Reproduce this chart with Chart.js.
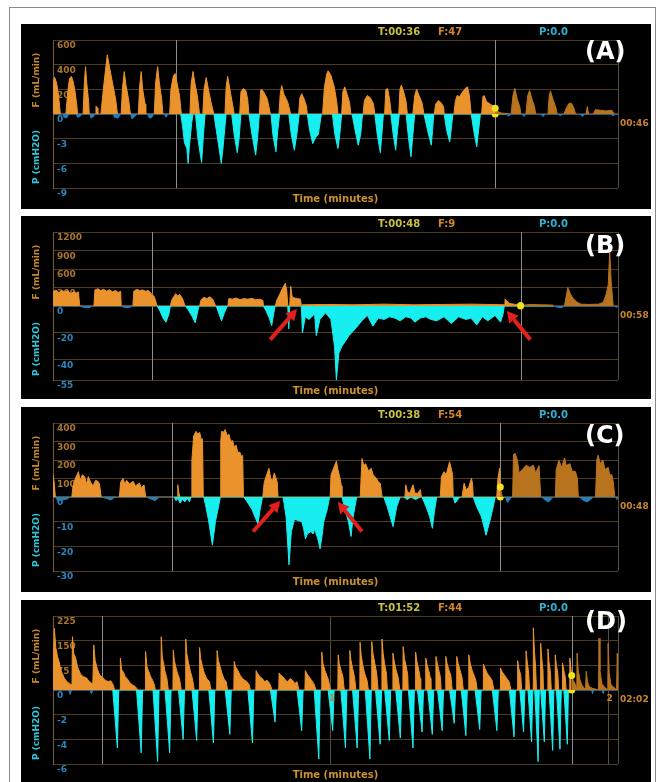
<!DOCTYPE html>
<html>
<head>
<meta charset="utf-8">
<script src="https://cdn.jsdelivr.net/npm/chart.js@4.4.0/dist/chart.umd.min.js"></script>
<style>
  body { margin: 0; background: #fff; width: 659px; height: 782px; overflow: hidden; position: relative; }
  #frame { position: absolute; left: 9px; top: 7px; width: 647px; height: 790px; border: 1px solid #8a8a8a; box-sizing: border-box; }
  .panel { position: absolute; left: 21px; width: 630px; background: #000; }
  .panel canvas { display: block; }
</style>
</head>
<body>
<div id="frame"></div>
<div class="panel" style="top:24px;height:185px"><canvas id="cA" width="630" height="185"></canvas></div>
<div class="panel" style="top:216px;height:183px"><canvas id="cB" width="630" height="183"></canvas></div>
<div class="panel" style="top:407px;height:185px"><canvas id="cC" width="630" height="185"></canvas></div>
<div class="panel" style="top:600px;height:182px"><canvas id="cD" width="630" height="182"></canvas></div>

<script>
// ---------- panel A ----------
const durA = 46;
const cursorA = [10, 36];
const fCurA = 47;
const flowTicksA = [0, 200, 400, 600];
const presTicksA = [-9, -6, -3, 0];
const flowA = [
  [0,240],[0.12,300],[0.3,250],[0.45,150],[0.6,0],
  [1.05,0],[1.2,180],[1.35,290],[1.5,304],[1.65,260],[1.8,180],[1.95,60],[2.0,0],
  [2.45,0],[2.55,250],[2.65,384],[2.75,250],[2.9,100],[2.95,0],
  [3.45,0],[3.5,64],[3.6,50],[3.65,0],
  [3.9,0],[4.1,200],[4.3,380],[4.42,480],[4.6,380],[4.85,250],[5.1,120],[5.25,0],
  [5.55,0],[5.65,200],[5.8,344],[5.95,230],[6.15,120],[6.3,0],
  [6.95,0],[7.05,220],[7.18,344],[7.3,200],[7.5,80],[7.55,0],
  [8.25,0],[8.35,250],[8.52,384],[8.65,260],[8.85,120],[8.95,0],
  [9.5,0],[9.6,200],[9.8,310],[9.95,328],[10.1,250],[10.3,150],[10.45,0],
  [11.15,0],[11.25,250],[11.4,345],[11.55,250],[11.75,150],[11.93,0],
  [12.2,0],[12.3,200],[12.47,295],[12.65,200],[12.9,80],[13.1,0],
  [14.0,0],[14.1,220],[14.22,305],[14.4,200],[14.6,90],[14.75,0],
  [15.2,0],[15.3,180],[15.5,207],[15.7,190],[15.85,120],[15.95,0],
  [16.8,0],[16.9,190],[17.0,200],[17.2,170],[17.45,120],[17.7,0],
  [18.4,0],[18.5,160],[18.62,230],[18.8,160],[19.1,100],[19.35,0],
  [20.0,0],[20.1,130],[20.25,165],[20.45,120],[20.65,60],[20.7,0],
  [21.95,0],[22.1,220],[22.3,330],[22.4,350],[22.6,320],[22.9,220],[23.1,100],[23.2,0],
  [23.5,0],[23.6,180],[23.75,220],[23.95,160],[24.15,90],[24.25,0],
  [25.25,0],[25.35,110],[25.6,150],[25.85,130],[26.1,80],[26.2,0],
  [27.0,0],[27.1,200],[27.25,205],[27.4,120],[27.55,0],
  [28.15,0],[28.25,200],[28.36,235],[28.55,180],[28.75,100],[28.85,0],
  [29.3,0],[29.45,150],[29.6,200],[29.8,150],[30.05,90],[30.2,0],
  [31.05,0],[31.15,80],[31.4,110],[31.6,90],[31.8,60],[31.85,0],
  [32.65,0],[32.75,100],[32.9,150],[33.1,140],[33.35,180],[33.6,210],[33.75,220],[33.9,150],[34.05,0],
  [34.9,0],[35.0,140],[35.1,150],[35.3,100],[35.6,80],[35.9,60],[36.0,47],
  [36.2,20],[36.5,8],[37.3,0],[37.45,150],[37.6,208],[37.8,120],[38.0,60],[38.1,0],
  [38.5,0],[38.65,150],[38.8,190],[39.0,120],[39.2,60],[39.3,0],
  [40.3,0],[40.4,150],[40.5,187],[40.7,120],[40.95,50],[41.05,0],
  [41.6,0],[41.8,50],[42.0,85],[42.2,88],[42.4,50],[42.55,0],
  [43.4,0],[43.5,60],[43.6,0],
  [44.0,0],[44.15,35],[44.6,30],[45.0,25],[45.5,30],[45.7,0],[46,0]
];
const presA = [
  [0,0],[0.8,0],[0.9,-0.4],[1.1,-0.5],[1.3,0],[1.9,0],[2.0,-0.4],[2.2,-0.3],[2.35,0],
  [3.0,0],[3.1,-0.5],[3.3,-0.3],[3.4,0],[4.9,0],[5.0,-0.4],[5.3,-0.5],[5.5,0],
  [6.3,0],[6.45,-0.6],[6.65,-0.3],[6.8,0],[7.7,0],[7.85,-0.5],[8.05,-0.4],[8.2,0],
  [9.05,0],[9.2,-0.4],[9.35,0],
  [10.4,0],[10.55,-1.5],[10.7,-3.5],[10.9,-4.2],[11.0,-6],[11.1,-4],[11.3,-1],[11.4,0],
  [11.6,0],[11.8,-3],[12.0,-5],[12.1,-5.9],[12.25,-2.5],[12.38,0],
  [13.1,0],[13.3,-2],[13.5,-4],[13.7,-6],[13.85,-4],[14.0,-1.5],[14.1,0],
  [14.55,0],[14.75,-2.5],[15.0,-4.7],[15.15,-3],[15.3,0],
  [15.95,0],[16.2,-2.5],[16.5,-5],[16.65,-3],[16.8,0],
  [17.75,0],[17.9,-2.5],[18.15,-4.6],[18.3,-2],[18.45,0],
  [19.2,0],[19.4,-2.5],[19.65,-4.4],[19.85,-2.5],[20.05,0],
  [20.7,0],[20.9,-2],[21.15,-3.6],[21.4,-2.8],[21.6,-2.5],[21.85,0],
  [22.75,0],[22.95,-2.5],[23.2,-4.2],[23.35,-2.5],[23.5,0],
  [24.35,0],[24.6,-2],[24.85,-3.8],[25.05,-2.5],[25.2,0],
  [26.2,0],[26.4,-2.5],[26.65,-4.7],[26.8,-2],[26.9,0],
  [27.5,0],[27.7,-2.5],[27.9,-4.4],[28.05,-2],[28.2,0],
  [28.75,0],[28.95,-3],[29.15,-5.2],[29.3,-2.5],[29.45,0],
  [30.2,0],[30.5,-2],[30.8,-3.8],[30.9,-2],[31.0,0],
  [31.85,0],[32.05,-2],[32.3,-3.4],[32.45,-1.5],[32.55,0],
  [34.05,0],[34.25,-2],[34.5,-4],[34.65,-2],[34.8,0],
  [36.9,0],[37.1,-0.25],[37.3,0],[38.2,0],[38.35,-0.3],[38.5,0],[39.7,0],[39.9,-0.3],[40.1,0],
  [41.1,0],[41.3,-0.2],[41.5,0],[42.9,0],[43.1,-0.3],[43.3,0],[45.4,0],[45.6,-0.2],[45.8,0],[46,0]
];

// ---------- panel B ----------
const durB = 58;
const cursorB = [10.2, 48];
const fCurB = 9;
const flowTicksB = [0, 300, 600, 900, 1200];
const presTicksB = [-55, -40, -20, 0];
const flowB = [
  [0,230],[0.3,260],[0.6,220],[0.9,250],[1.2,230],[1.5,250],[1.8,200],[2.1,230],[2.4,210],[2.6,230],[2.75,0],
  [4.2,0],[4.3,260],[4.6,280],[4.9,250],[5.2,270],[5.5,240],[5.8,265],[6.1,230],[6.4,250],[6.7,220],[6.95,240],[7.0,0],
  [8.2,0],[8.3,240],[8.6,270],[8.9,250],[9.2,260],[9.5,240],[9.8,250],[10.1,200],[10.4,150],[10.7,0],
  [12.05,0],[12.2,100],[12.4,150],[12.6,200],[12.8,160],[13.0,190],[13.3,120],[13.55,0],
  [15.05,0],[15.2,100],[15.5,140],[15.8,120],[16.1,150],[16.4,110],[16.7,0],
  [17.95,0],[18.05,120],[18.4,110],[18.8,130],[19.2,100],[19.6,120],[20.0,110],[20.4,125],[20.8,100],[21.2,110],[21.55,90],[21.6,0],
  [22.8,0],[23.0,100],[23.3,200],[23.6,300],[23.85,370],[24.0,250],[24.1,0],[24.3,0],[24.4,320],[24.55,150],[24.8,130],[25.1,120],[25.4,110],[25.5,0],
  [25.6,20],[28,25],[31,20],[34,30],[37,20],[40,25],[43,30],[46.3,20],
  [46.4,110],[46.6,80],[46.9,40],[47.3,30],[48.0,9],
  [49,25],[50,20],[51.3,15],[51.4,0],[52.5,0],[52.85,300],[53.1,200],[53.4,120],[53.8,60],[54.2,30],[55,25],[56,30],
  [56.5,60],[56.8,200],[57.0,350],[57.15,880],[57.3,400],[57.45,100],[57.5,0],[58,0]
];
const presB = [
  [0,0],[2.8,0],[3.1,-1],[3.4,-1.3],[3.8,-1],[4.0,0],[7.0,0],[7.3,-1],[7.6,-1.2],[8.0,-0.8],[8.15,0],
  [10.7,0],[11.0,-4],[11.3,-9],[11.6,-12],[11.9,-6],[12.05,0],
  [13.6,0],[13.9,-3],[14.3,-8],[14.6,-12.5],[14.8,-6],[14.97,0],
  [16.75,0],[17.0,-5],[17.3,-11],[17.6,-5],[17.9,0],
  [21.6,0],[21.9,-4],[22.2,-9],[22.45,-14.5],[22.65,-6],[22.8,0],
  [24.1,0],[24.2,-17],[24.3,0],
  [25.5,0],[25.6,-20],[25.9,-8],[26.28,-10],[26.85,-6],[27.03,-22],[27.4,-10],[27.97,-5],[28.53,-10],
  [28.9,-30],[29.09,-55],[29.35,-35],[29.65,-30],[30.4,-22],[31.15,-16],[31.7,-11],[32.27,-7],[32.84,-15],
  [33.4,-9],[34.0,-10],[34.52,-8],[35.1,-9],[35.64,-11],[36.2,-8],[36.77,-9],[37.14,-12],[37.7,-9],[38.27,-8],
  [38.8,-10],[39.39,-11],[40.14,-8],[40.89,-13],[41.64,-8],[42.39,-10],[42.9,-9],[43.51,-14],[44.07,-8],
  [44.63,-11],[45.38,-7],[45.94,-12],[46.2,-6],[46.32,0],
  [51.5,0],[51.8,-1],[52.2,-1.2],[52.5,0],[57.6,0],[57.85,-1],[58,0]
];
const arrowsB = [[22.3, -25, 25.05, -2.3], [49.0, -25, 46.6, -3.8]];

// ---------- panel C ----------
const durC = 48;
const cursorC = [10.1, 38];
const fCurC = 54;
const flowTicksC = [0, 100, 200, 300, 400];
const presTicksC = [-30, -20, -10, 0];
const flowC = [
  [0,120],[0.1,80],[0.2,0],
  [1.6,0],[1.7,60],[1.9,100],[2.16,137],[2.3,90],[2.5,120],[2.69,110],[2.85,70],[3.0,110],[3.2,80],[3.4,60],[3.62,90],[3.8,85],[3.95,70],[4.09,0],
  [5.64,0],[5.75,80],[5.95,101],[6.1,70],[6.26,90],[6.5,70],[6.81,85],[7.0,60],[7.34,75],[7.5,50],[7.74,65],[7.87,0],
  [10.55,0],[10.6,66],[10.7,20],[10.8,0],
  [11.75,0],[11.8,200],[11.95,330],[12.15,355],[12.3,340],[12.46,350],[12.6,310],[12.7,315],[12.77,0],
  [14.22,0],[14.25,300],[14.32,355],[14.5,350],[14.63,365],[14.8,330],[14.94,340],[15.1,300],[15.25,306],[15.4,270],[15.56,280],[15.7,240],[15.87,243],[16.0,220],[16.11,225],[16.18,0],
  [17.82,0],[17.95,80],[18.15,120],[18.35,155],[18.5,100],[18.66,90],[18.8,130],[18.9,110],[19.05,80],[19.12,0],
  [23.55,0],[23.62,119],[23.8,150],[24.08,194],[24.2,150],[24.39,100],[24.5,60],[24.55,0],
  [26.1,0],[26.25,208],[26.4,170],[26.56,180],[26.8,140],[27.03,155],[27.2,120],[27.49,100],[27.65,80],[27.8,75],[27.96,0],
  [29.9,0],[29.97,66],[30.1,30],[30.3,20],[30.59,66],[30.75,20],[31.0,20],[31.21,40],[31.3,0],
  [32.9,0],[33.0,110],[33.22,137],[33.4,120],[33.69,190],[33.85,150],[33.95,120],[34.0,0],
  [34.75,0],[34.93,75],[35.1,40],[35.3,50],[35.55,101],[35.65,70],[35.7,0],
  [37.7,0],[37.8,100],[37.94,155],[38.0,54],[38.1,20],[38.2,0],
  [39.05,0],[39.12,230],[39.27,235],[39.45,200],[39.6,130],[39.9,150],[40.2,172],[40.5,160],[40.82,172],[41.0,130],[41.29,170],[41.44,0],
  [42.68,0],[42.75,150],[42.99,199],[43.2,160],[43.46,211],[43.6,170],[43.92,180],[44.1,140],[44.39,137],[44.55,100],[44.63,0],
  [46.09,0],[46.2,200],[46.31,226],[46.5,180],[46.71,200],[46.9,150],[47.17,160],[47.3,120],[47.48,120],[47.6,80],[47.73,0],[48,0]
];
const presC = [
  [0,0],[0.2,0],[0.4,-1.5],[0.8,-1.2],[1.2,-0.8],[1.45,0],[4.1,0],[4.5,-0.5],[4.9,-1.2],[5.3,0],[7.95,0],[8.3,-0.8],[8.7,-1.5],[9.0,0],
  [10.3,0],[10.45,-1.5],[10.6,-0.5],[10.8,-2.5],[11.0,-1],[11.2,-2],[11.4,-0.5],[11.6,-2],[11.7,0],
  [12.8,0],[12.95,-3],[13.2,-9],[13.54,-19.5],[13.8,-10],[14.1,-3],[14.22,0],
  [16.2,0],[16.5,-2],[16.9,-5],[17.41,-11],[17.6,-5],[17.8,0],
  [19.55,0],[19.8,-8],[20.05,-27.5],[20.25,-14],[20.52,-9],[20.8,-9.5],[21.14,-10],[21.3,-13],[21.45,-17],[21.6,-15],
  [21.91,-14],[22.1,-15],[22.22,-13],[22.5,-17],[22.69,-21],[22.85,-16],[23.0,-10],[23.3,-5],[23.5,0],
  [24.55,0],[24.8,-5],[25.1,-10],[25.32,-16],[25.5,-8],[25.8,0],
  [28.1,0],[28.4,-4],[28.89,-12],[29.2,-4],[29.5,0],
  [29.8,0],[30.1,-1],[30.4,0],[30.8,-1],[31.2,0],
  [31.35,0],[31.7,-4],[32.0,-8],[32.23,-12.7],[32.4,-6],[32.6,0],
  [34.0,0],[34.15,-2.5],[34.4,-1],[34.6,0],
  [35.7,0],[36.0,-4],[36.4,-8],[36.79,-15.5],[37.1,-10],[37.4,-4],[37.57,0],
  [38.45,0],[38.6,-2.2],[38.9,-0.5],[39.0,0],
  [41.5,0],[41.9,-1.5],[42.1,-2],[42.5,0],
  [44.7,0],[45.1,-1.5],[45.4,-2],[45.9,0],
  [47.8,0],[47.9,-1],[48,0]
];
const arrowsC = [[17.0, -14, 19.3, -1.6], [26.25, -14, 24.2, -2]];

// ---------- panel D ----------
const durD = 122;
const cursorD = [10.6, 112];
const fCurD = 44;
const minutesD = [60, 120];
const flowTicksD = [0, 75, 150, 225];
const presTicksD = [-6, -4, -2, 0];
const flowD = [
  [0,60],[0.3,187],[0.6,130],[1.0,100],[1.3,87],[1.7,60],[2.1,47],[2.5,35],[2.9,27],[3.5,20],[4.1,15],
  [4.2,162],[4.5,110],[4.9,97],[5.3,70],[6.0,47],[6.6,40],[7.2,37],[7.9,25],[8.6,18],
  [8.8,137],[9.1,90],[9.6,62],[10.1,45],[10.8,37],
  [11.3,30],[11.9,25],[12.5,28],[13.0,15],[13.3,0],
  [14.5,0],[14.55,97],[14.8,62],[15.2,55],[15.6,40],[16.0,35],[16.6,22],[17.2,15],[17.8,10],[18.3,0],
  [19.9,0],[19.99,117],[20.3,70],[20.7,55],[21.1,40],[21.5,30],[21.9,15],[22.1,0],
  [23.3,0],[23.38,162],[23.6,100],[23.9,80],[24.2,55],[24.6,35],[24.9,0],
  [25.9,0],[25.98,122],[26.2,90],[26.5,70],[26.9,50],[27.3,35],[27.7,0],
  [28.6,0],[28.66,155],[28.9,110],[29.3,80],[29.7,55],[30.1,35],[30.5,0],
  [31.6,0],[31.65,129],[31.9,95],[32.3,70],[32.7,50],[33.2,35],[33.8,25],[34.1,0],
  [35.35,0],[35.43,120],[35.7,90],[36.1,70],[36.5,50],[36.9,35],[37.4,25],[37.7,0],
  [39.05,0],[39.13,87],[39.4,70],[39.9,60],[40.4,45],[40.9,35],[41.4,30],[41.9,25],[42.4,15],[42.6,0],
  [43.8,0],[43.86,59],[44.2,50],[44.7,40],[45.2,35],[45.7,25],[46.2,30],[46.8,20],[47.3,0],
  [48.75,0],[48.82,52],[49.2,45],[49.7,40],[50.2,30],[50.7,25],[51.2,35],[51.7,30],[52.2,20],[52.7,25],[53.1,0],
  [54.4,0],[54.49,59],[54.8,50],[55.3,40],[55.8,30],[56.3,20],[56.8,0],
  [58.0,0],[58.04,115],[58.3,80],[58.7,60],[59.1,45],[59.5,30],[59.9,0],
  [61.5,0],[61.58,107],[61.8,80],[62.2,60],[62.6,40],[62.9,0],
  [64.05,0],[64.1,120],[64.35,90],[64.7,65],[65.1,40],[65.4,0],
  [66.25,0],[66.31,145],[66.55,105],[66.9,75],[67.3,50],[67.8,30],[68.1,0],
  [68.75,0],[68.83,147],[69.1,110],[69.5,80],[69.9,50],[70.2,0],
  [71.0,0],[71.03,155],[71.3,110],[71.6,80],[72.0,50],[72.2,0],
  [73.35,0],[73.4,112],[73.7,85],[74.1,60],[74.5,40],[74.9,0],
  [75.55,0],[75.6,132],[75.9,95],[76.3,70],[76.6,45],[76.7,0],
  [78.25,0],[78.3,115],[78.6,85],[79.0,60],[79.3,35],[79.4,0],
  [80.45,0],[80.49,97],[80.8,75],[81.2,55],[81.5,35],[81.6,0],
  [82.65,0],[82.69,102],[83.0,80],[83.4,55],[83.7,35],[83.8,0],
  [84.8,0],[84.82,102],[85.1,80],[85.5,60],[85.9,45],[86.2,0],
  [87.15,0],[87.18,102],[87.5,80],[87.9,60],[88.3,40],[88.6,0],
  [89.75,0],[89.78,107],[90.1,80],[90.5,60],[90.9,45],[91.3,30],[91.6,0],
  [92.9,0],[92.93,79],[93.3,65],[93.8,50],[94.3,40],[94.8,30],[95.2,0],
  [96.6,0],[96.63,67],[97.0,55],[97.5,45],[98.0,35],[98.5,25],[98.9,0],
  [100.3,0],[100.33,89],[100.6,65],[101.0,45],[101.2,0],
  [102.1,0],[102.15,119],[102.4,85],[102.7,55],[102.9,0],
  [103.7,0],[103.72,189],[103.95,120],[104.2,70],[104.4,0],
  [105.25,0],[105.3,142],[105.55,95],[105.8,60],[105.9,0],
  [106.85,0],[106.87,125],[107.1,85],[107.4,55],[107.6,0],
  [108.4,0],[108.45,107],[108.7,75],[109.0,50],[109.2,0],
  [110.0,0],[110.02,82],[110.3,60],[110.6,40],[110.8,0],
  [111.55,0],[111.6,97],[111.8,70],[112.0,44],
  [112.3,30],[112.7,20],[113.1,0],[113.17,112],[113.4,60],[113.8,30],[114.2,15],[115.0,0],
  [115.14,57],[115.4,25],[115.8,10],[116.5,5],[117.8,0],[117.9,157],[118.1,60],[118.5,20],[119.0,10],[119.8,0],
  [119.87,142],[120.1,50],[120.5,15],[121.0,10],[121.7,0],[121.84,112],[122,40]
];
const presD = [
  [0,0],[3.4,0],[3.7,-0.35],[4.0,0],[8.0,0],[8.3,-0.3],[8.6,0],[12.9,0],
  [13.4,-2.3],[13.9,-4.7],[14.2,0],[18.04,0],[18.54,-2.5],[19.04,-5.1],[19.34,0],
  [21.59,0],[22.09,-2.9],[22.59,-5.8],[22.89,0],[24.19,0],[24.69,-2.5],[25.19,-5.1],[25.49,0],
  [27.1,0],[27.6,-2],[28.1,-4],[28.4,0],[30.02,0],[30.52,-2],[31.02,-4.1],[31.32,0],
  [33.64,0],[34.14,-2.1],[34.64,-4.3],[34.94,0],[37.19,0],[37.69,-1.8],[38.19,-3.6],[38.49,0],
  [42.07,0],[42.57,-2.1],[43.07,-4.3],[43.37,0],[46.95,0],[47.45,-1.3],[47.95,-2.6],[48.25,0],
  [52.7,0],[53.2,-1.6],[53.7,-3.3],[54.0,0],[56.4,0],[56.9,-2.8],[57.4,-5.6],[57.7,0],
  [59.4,0],[59.9,-1.6],[60.4,-3.3],[60.7,0],[62.15,0],[62.65,-2.3],[63.15,-4.7],[63.45,0],
  [64.68,0],[65.18,-2.3],[65.68,-4.7],[65.98,0],[67.43,0],[67.93,-2.8],[68.43,-5.6],[68.73,0],
  [69.64,0],[70.14,-2.2],[70.64,-4.4],[70.94,0],[71.61,0],[72.11,-2],[72.61,-4.1],[72.91,0],
  [74.0,0],[74.5,-1.9],[75.0,-3.9],[75.3,0],[76.73,0],[77.23,-2.3],[77.73,-4.7],[78.03,0],
  [78.7,0],[79.2,-1.7],[79.7,-3.4],[80.0,0],[80.9,0],[81.4,-1.8],[81.9,-3.6],[82.2,0],
  [83.03,0],[83.53,-1.6],[84.03,-3.3],[84.33,0],[85.63,0],[86.13,-1.3],[86.63,-2.7],[86.93,0],
  [88.15,0],[88.65,-1.8],[89.15,-3.7],[89.45,0],[91.14,0],[91.64,-1.6],[92.14,-3.2],[92.44,0],
  [94.85,0],[95.35,-1.6],[95.85,-3.3],[96.15,0],[98.55,0],[99.05,-1.9],[99.55,-3.8],[99.85,0],
  [100.8,0],[101.2,-1.7],[101.6,-3.4],[101.9,0],[102.55,0],[102.95,-2.1],[103.33,-4.2],[103.6,0],
  [104.0,0],[104.4,-2.9],[104.75,-5.8],[105.0,0],[105.3,0],[105.7,-2.1],[106.09,-4.2],[106.35,0],
  [107.1,0],[107.5,-2.4],[107.9,-4.9],[108.15,0],[108.7,0],[109.1,-2.4],[109.47,-4.8],[109.75,0],
  [110.3,0],[110.7,-2.2],[111.05,-4.4],[111.3,0],[112,0],
  [116.3,0],[116.5,-0.3],[116.7,0],[118.6,0],[118.8,-0.3],[119.0,0],[122,0]
];

// ---------- drawing ----------
const FLOW_ON = '#ea922c', FLOW_OFF = '#b8731f';
const PRES_ON = '#17eef0', PRES_OFF = '#2080c0';
const TICK_FONT = { family: 'DejaVu Sans', size: 9, weight: 'bold' };

function mmss(s) {
  return String(Math.floor(s / 60)).padStart(2, '0') + ':' + String(Math.round(s % 60)).padStart(2, '0');
}

function arrow(ctx, x0, y0, x1, y1) {
  const ang = Math.atan2(y1 - y0, x1 - x0), hl = 11, hw = 6;
  const bx = x1 - hl * Math.cos(ang), by = y1 - hl * Math.sin(ang);
  ctx.strokeStyle = ctx.fillStyle = '#e3201b';
  ctx.lineWidth = 4;
  ctx.beginPath(); ctx.moveTo(x0, y0); ctx.lineTo(bx, by); ctx.stroke();
  ctx.beginPath();
  ctx.moveTo(x1, y1);
  ctx.lineTo(bx + hw * Math.sin(ang), by - hw * Math.cos(ang));
  ctx.lineTo(bx - hw * Math.sin(ang), by + hw * Math.cos(ang));
  ctx.closePath(); ctx.fill();
}

const deco = {
  id: 'deco',
  beforeDatasetsDraw(chart, _args, o) {
    const { ctx, chartArea: a, scales: { x } } = chart;
    ctx.save();
    ctx.strokeStyle = '#8e8e8e';
    ctx.lineWidth = 1;
    for (const t of o.cursors) {
      const px = Math.round(x.getPixelForValue(t)) + 0.5;
      ctx.beginPath(); ctx.moveTo(px, a.top); ctx.lineTo(px, a.bottom); ctx.stroke();
    }
    ctx.restore();
  },
  afterDraw(chart, _args, o) {
    const { ctx, chartArea: a, scales: { x, yF, yP } } = chart;
    const zero = yP.getPixelForValue(0);
    ctx.save();
    ctx.textBaseline = 'middle';
    ctx.textAlign = 'left';
    ctx.font = 'bold 10px "DejaVu Sans"';
    ctx.fillStyle = '#cbc23c'; ctx.fillText('T:' + mmss(o.cursors[1]), 357, 8);
    ctx.fillStyle = '#d4862e'; ctx.fillText('F:' + o.fCur, 417, 8);
    ctx.fillStyle = '#2cb4d4'; ctx.fillText('P:0.0', 518, 8);

    ctx.font = 'bold 24px "DejaVu Sans"';
    ctx.fillStyle = '#ffffff';
    ctx.fillText(o.tag, 564, o.tagY);

    // axis titles
    ctx.font = 'bold 9px "DejaVu Sans"';
    ctx.textAlign = 'center';
    ctx.save();
    ctx.translate(16, (yF.top + yF.bottom) / 2 + 3);
    ctx.rotate(-Math.PI / 2);
    ctx.fillStyle = '#c8862c'; ctx.fillText('F (mL/min)', 0, 0);
    ctx.restore();
    ctx.save();
    ctx.translate(16, (yP.top + yP.bottom) / 2 + 6);
    ctx.rotate(-Math.PI / 2);
    ctx.fillStyle = '#2cc6d6'; ctx.fillText('P (cmH2O)', 0, 0);
    ctx.restore();

    ctx.font = 'bold 10px "DejaVu Sans"';
    ctx.fillStyle = '#c9902e';
    ctx.fillText('Time (minutes)', (a.left + a.right) / 2, a.bottom + 11);

    ctx.font = 'bold 9px "DejaVu Sans"';
    ctx.fillStyle = '#c8862c';
    for (const m of o.minutes) ctx.fillText(String(m / 60), x.getPixelForValue(m) + 1, zero + 9);
    ctx.textAlign = 'left';
    ctx.fillText(mmss(o.dur), a.right + 2, zero + 10);

    for (const [t0, p0, t1, p1] of o.arrows) {
      arrow(ctx, x.getPixelForValue(t0), yP.getPixelForValue(p0), x.getPixelForValue(t1), yP.getPixelForValue(p1));
    }
    ctx.restore();
  }
};

function panel(id, tag, tagY, dur, cursors, fCur, flow, pres, flowTicks, presTicks, arrows, minutes) {
  const [c0, c1] = cursors;
  new Chart(document.getElementById(id), {
    type: 'line',
    data: {
      datasets: [
        { type: 'scatter', data: [[c1, fCur]], yAxisID: 'yF', pointRadius: 3.5, backgroundColor: '#f2e41a', borderWidth: 0, order: -2 },
        { type: 'scatter', data: [[c1, 0]], yAxisID: 'yP', pointRadius: 3.5, backgroundColor: '#f2e41a', borderWidth: 0, order: -1 },
        {
          data: flow, yAxisID: 'yF', fill: 'origin', borderWidth: 1, pointRadius: 0, tension: 0,
          borderColor: FLOW_ON, backgroundColor: FLOW_ON,
          segment: {
            borderColor: s => s.p0.parsed.x >= c1 ? FLOW_OFF : FLOW_ON,
            backgroundColor: s => s.p0.parsed.x >= c1 ? FLOW_OFF : FLOW_ON
          }
        },
        {
          data: pres, yAxisID: 'yP', fill: 'origin', borderWidth: 1, pointRadius: 0, tension: 0,
          borderColor: PRES_ON, backgroundColor: PRES_ON,
          segment: {
            borderColor: s => (s.p0.parsed.x < c0 || s.p0.parsed.x >= c1) ? PRES_OFF : PRES_ON,
            backgroundColor: s => (s.p0.parsed.x < c0 || s.p0.parsed.x >= c1) ? PRES_OFF : PRES_ON
          }
        }
      ]
    },
    options: {
      responsive: false, animation: false, events: [],
      layout: { padding: { left: 32, right: 33, top: 16, bottom: chartH(id) } },
      plugins: {
        legend: { display: false }, tooltip: { enabled: false },
        deco: { tag, tagY, dur, cursors, fCur, arrows, minutes }
      },
      scales: {
        x: {
          type: 'linear', min: 0, max: dur,
          afterBuildTicks: s => { s.ticks = [0, ...minutes, dur].map(v => ({ value: v })); },
          ticks: { display: false },
          grid: { color: '#5e4d3a', drawTicks: false },
          border: { display: false },
          afterFit: s => { s.height = 0; }
        },
        // the stack is laid out bottom-up: pressure first, flow on top
        yP: {
          type: 'linear', position: 'left', stack: 'fp', stackWeight: 1,
          min: presTicks[0], max: 0,
          afterBuildTicks: s => { s.ticks = presTicks.map(v => ({ value: v })); },
          ticks: { mirror: true, autoSkip: false, padding: 4, labelOffset: 6, color: '#2b86bd', font: TICK_FONT, callback: v => String(v) },
          grid: { color: '#4d3b22', drawTicks: false },
          border: { color: '#7d5c2d' },
          afterFit: s => { s.width = 0; }
        },
        yF: {
          type: 'linear', position: 'left', stack: 'fp', stackWeight: 1,
          min: 0, max: flowTicks[flowTicks.length - 1],
          afterBuildTicks: s => { s.ticks = flowTicks.map(v => ({ value: v })); },
          ticks: { mirror: true, autoSkip: false, padding: 4, labelOffset: 6, color: '#a9742d', font: TICK_FONT, callback: v => v === 0 ? '' : String(v) },
          grid: { color: '#4d3b22', drawTicks: false },
          border: { color: '#7d5c2d' },
          afterFit: s => { s.width = 0; }
        }
      }
    },
    plugins: [deco]
  });
}

function chartH(id) {
  return document.getElementById(id).height - 164;
}

panel('cA', '(A)', 29, durA, cursorA, fCurA, flowA, presA, flowTicksA, presTicksA, [], []);
panel('cB', '(B)', 31, durB, cursorB, fCurB, flowB, presB, flowTicksB, presTicksB, arrowsB, []);
panel('cC', '(C)', 30, durC, cursorC, fCurC, flowC, presC, flowTicksC, presTicksC, arrowsC, []);
panel('cD', '(D)', 23, durD, cursorD, fCurD, flowD, presD, flowTicksD, presTicksD, [], minutesD);
</script>
</body>
</html>
